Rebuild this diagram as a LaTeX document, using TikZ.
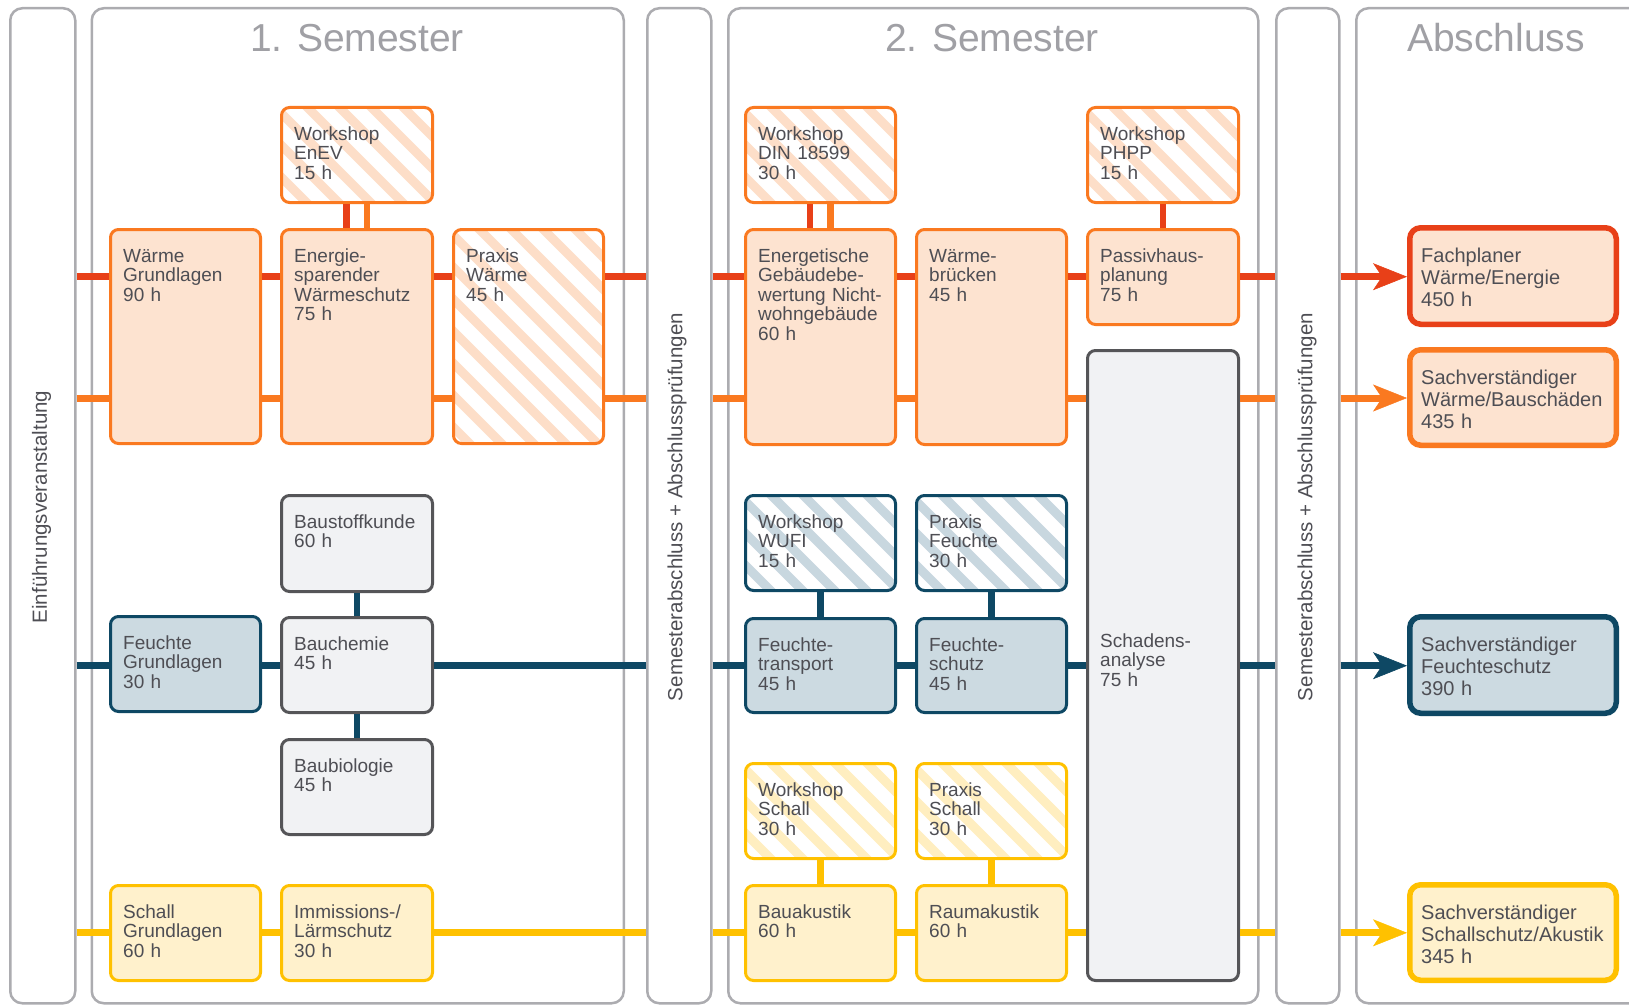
\documentclass[tikz,border=0pt]{standalone}
\usepackage{fontspec}
\setmainfont{Liberation Sans}
\usetikzlibrary{arrows.meta}
\definecolor{redc}{RGB}{232,64,24}
\definecolor{orc}{RGB}{250,121,32}
\definecolor{ofill}{RGB}{253,227,208}
\definecolor{ostripe}{RGB}{253,222,200}
\definecolor{bluc}{RGB}{14,72,100}
\definecolor{bfill}{RGB}{204,218,225}
\definecolor{bstripe}{RGB}{200,215,223}
\definecolor{yelc}{RGB}{255,193,0}
\definecolor{yfill}{RGB}{255,241,204}
\definecolor{ystripe}{RGB}{255,238,192}
\definecolor{gfill}{RGB}{241,242,244}
\definecolor{gbord}{RGB}{85,85,88}
\definecolor{colb}{RGB}{172,172,176}
\definecolor{txtc}{RGB}{78,78,84}
\definecolor{titc}{RGB}{160,160,165}

\newcommand\hatchlines[1]{\foreach \hh in {-9,...,6}{\draw[#1,line width=9pt] ([xshift=\hh*32pt-16pt,yshift=10pt]path picture bounding box.north west) -- ++(262pt,-262pt);}}

\newcommand\modbox[7]{%
\node[#2,anchor=north west,minimum width={#5-#3-3},minimum height={#6-#4-3}] (#1) at (#3,#4) {};
\node[txt,anchor=base west] (#1-t) at ([xshift=14pt,yshift=-34pt]#1.north west) {#7};}

\newcommand\goalbox[7]{%
\node[ab,#2,anchor=north west,minimum width={#5-#3-5.5},minimum height={#6-#4-5.5}] (#1) at (#3,#4) {};
\node[btxt,anchor=base west] (#1-t) at ([xshift=14pt,yshift=-37pt]#1.north west) {#7};}

\tikzset{
 col/.style={draw=colb,line width=2.5pt,rounded corners=12pt,fill=white,anchor=north west,inner sep=0pt},
 mb/.style={line width=3pt,rounded corners=8pt,inner sep=0pt},
 obox/.style={mb,draw=orc,fill=ofill},
 ohat/.style={mb,draw=orc,fill=white,path picture={\hatchlines{ostripe}}},
 bbox/.style={mb,draw=bluc,fill=bfill},
 bhat/.style={mb,draw=bluc,fill=white,path picture={\hatchlines{bstripe}}},
 ybox/.style={mb,draw=yelc,fill=yfill},
 yhat/.style={mb,draw=yelc,fill=white,path picture={\hatchlines{ystripe}}},
 gbox/.style={mb,draw=gbord,fill=gfill},
 ab/.style={line width=5.5pt,rounded corners=11pt,inner sep=0pt},
 txt/.style={text=txtc,font=\fontsize{19}{19.5}\selectfont,align=left,text width=230pt,inner sep=0pt},
 btxt/.style={text=txtc,font=\fontsize{20}{22}\selectfont,align=left,text width=230pt,inner sep=0pt},
 trk/.style={line width=7pt},
 vc/.style={line width=6.5pt},
 arr/.style={line width=7pt,-{Stealth[length=34pt,width=27pt,inset=9pt,line width=0.5pt]}},
 ttl/.style={text=titc,font=\fontsize{39}{44}\selectfont,anchor=base,inner sep=0pt},
 vlab/.style={text=txtc,font=\fontsize{20.5}{24}\selectfont,rotate=90,inner sep=0pt},
}

\begin{document}
\begin{tikzpicture}[x=1pt,y=-1pt]
\useasboundingbox (0,0) rectangle (1629,1006);

% columns
\node[col,minimum width=65pt,minimum height=995pt] (einf) at (9,7) {};
\node[col,minimum width=532pt,minimum height=995pt] (sem1) at (90.5,7) {};
\node[col,minimum width=64pt,minimum height=995pt] (sab1) at (646,7) {};
\node[col,minimum width=530pt,minimum height=995pt] (sem2) at (727,7) {};
\node[col,minimum width=63pt,minimum height=995pt] (sab2) at (1275,7) {};
\node[col,minimum width=320pt,minimum height=995pt] (absch) at (1355,7) {};

\node[ttl] (t1) at (357,52) {1. Semester};
\node[ttl] (t2) at (992,52) {2. Semester};
\node[ttl] (t3) at (1496,52) {Abschluss};

\node[vlab] (l1) at (41.5,507) {Einführungsveranstaltung};
\node[vlab] (l2) at (677,507) {Semesterabschluss + Abschlussprüfungen};
\node[vlab] (l3) at (1307,507) {Semesterabschluss + Abschlussprüfungen};

% Semester 1
\modbox{enev}{ohat}{280}{106}{434}{204}{Workshop\\EnEV\\15 h}
\modbox{wgl}{obox}{109}{228}{262}{445}{Wärme\\Grundlagen\\90 h}
\modbox{esw}{obox}{280}{228}{434}{445}{Energie-\\sparender\\Wärmeschutz\\75 h}
\modbox{pw}{ohat}{452}{228}{605}{445}{Praxis\\Wärme\\45 h}
\modbox{bsk}{gbox}{280}{494}{434}{593}{Baustoffkunde\\60 h}
\modbox{fgl}{bbox}{109}{615}{262}{713}{Feuchte\\Grundlagen\\30 h}
\modbox{bch}{gbox}{280}{616}{434}{714}{Bauchemie\\45 h}
\modbox{bbio}{gbox}{280}{738}{434}{836}{Baubiologie\\45 h}
\modbox{sgl}{ybox}{109}{884}{262}{982}{Schall\\Grundlagen\\60 h}
\modbox{ims}{ybox}{280}{884}{434}{982}{Immissions-/\\Lärmschutz\\30 h}

% Semester 2
\modbox{din}{ohat}{744}{106}{897}{204}{Workshop\\DIN 18599\\30 h}
\modbox{phpp}{ohat}{1086}{106}{1240}{204}{Workshop\\PHPP\\15 h}
\modbox{egb}{obox}{744}{228}{897}{446}{Energetische\\Gebäudebe-\\wertung Nicht-\\wohngebäude\\60 h}
\modbox{wbr}{obox}{915}{228}{1068}{446}{Wärme-\\brücken\\45 h}
\modbox{php}{obox}{1086}{228}{1240}{326}{Passivhaus-\\planung\\75 h}
\node[gbox,anchor=north west,minimum width=151pt,minimum height=630pt] (sch) at (1086,349) {};
\node[txt,anchor=base west] (sch-t) at (1100,647) {Schadens-\\analyse\\75 h};
\modbox{wufi}{bhat}{744}{494}{897}{592}{Workshop\\WUFI\\15 h}
\modbox{pf}{bhat}{915}{494}{1068}{592}{Praxis\\Feuchte\\30 h}
\modbox{ftr}{bbox}{744}{617}{897}{714}{Feuchte-\\transport\\45 h}
\modbox{fsch}{bbox}{915}{617}{1068}{714}{Feuchte-\\schutz\\45 h}
\modbox{wss}{yhat}{744}{762}{897}{860}{Workshop\\Schall\\30 h}
\modbox{ps}{yhat}{915}{762}{1068}{860}{Praxis\\Schall\\30 h}
\modbox{bak}{ybox}{744}{884}{897}{982}{Bauakustik\\60 h}
\modbox{rak}{ybox}{915}{884}{1068}{982}{Raumakustik\\60 h}

% Abschluss
\goalbox{fp}{draw=redc,fill=ofill}{1407}{225}{1619}{327}{Fachplaner\\Wärme/Energie\\450 h}
\goalbox{svw}{draw=orc,fill=ofill}{1407}{347}{1619}{448}{Sachverständiger\\Wärme/Bauschäden\\435 h}
\goalbox{svf}{draw=bluc,fill=bfill}{1407}{614}{1619}{716}{Sachverständiger\\Feuchteschutz\\390 h}
\goalbox{svs}{draw=yelc,fill=yfill}{1407}{882}{1619}{983}{Sachverständiger\\Schallschutz/Akustik\\345 h}

% track heights
\coordinate (R) at (0,276.7);
\coordinate (O) at (0,398);
\coordinate (B) at (0,665.7);
\coordinate (Y) at (0,932.8);

% red track
\draw[trk,redc] (einf.east|-R) -- (wgl.west|-R);
\draw[trk,redc] (wgl.east|-R) -- (esw.west|-R);
\draw[trk,redc] (esw.east|-R) -- (pw.west|-R);
\draw[trk,redc] (pw.east|-R) -- (sab1.west|-R);
\draw[trk,redc] (sab1.east|-R) -- (egb.west|-R);
\draw[trk,redc] (egb.east|-R) -- (wbr.west|-R);
\draw[trk,redc] (wbr.east|-R) -- (php.west|-R);
\draw[trk,redc] (php.east|-R) -- (sab2.west|-R);
\draw[arr,redc] (sab2.east|-R) -- (fp.west|-R);
% orange track
\draw[trk,orc] (einf.east|-O) -- (wgl.west|-O);
\draw[trk,orc] (wgl.east|-O) -- (esw.west|-O);
\draw[trk,orc] (esw.east|-O) -- (pw.west|-O);
\draw[trk,orc] (pw.east|-O) -- (sab1.west|-O);
\draw[trk,orc] (sab1.east|-O) -- (egb.west|-O);
\draw[trk,orc] (egb.east|-O) -- (wbr.west|-O);
\draw[trk,orc] (wbr.east|-O) -- (sch.west|-O);
\draw[trk,orc] (sch.east|-O) -- (sab2.west|-O);
\draw[arr,orc] (sab2.east|-O) -- (svw.west|-O);
% blue track
\draw[trk,bluc] (einf.east|-B) -- (fgl.west|-B);
\draw[trk,bluc] (fgl.east|-B) -- (bch.west|-B);
\draw[trk,bluc] (bch.east|-B) -- (sab1.west|-B);
\draw[trk,bluc] (sab1.east|-B) -- (ftr.west|-B);
\draw[trk,bluc] (ftr.east|-B) -- (fsch.west|-B);
\draw[trk,bluc] (fsch.east|-B) -- (sch.west|-B);
\draw[trk,bluc] (sch.east|-B) -- (sab2.west|-B);
\draw[arr,bluc] (sab2.east|-B) -- (svf.west|-B);
% yellow track
\draw[trk,yelc] (einf.east|-Y) -- (sgl.west|-Y);
\draw[trk,yelc] (sgl.east|-Y) -- (ims.west|-Y);
\draw[trk,yelc] (ims.east|-Y) -- (sab1.west|-Y);
\draw[trk,yelc] (sab1.east|-Y) -- (bak.west|-Y);
\draw[trk,yelc] (bak.east|-Y) -- (rak.west|-Y);
\draw[trk,yelc] (rak.east|-Y) -- (sch.west|-Y);
\draw[trk,yelc] (sch.east|-Y) -- (sab2.west|-Y);
\draw[arr,yelc] (sab2.east|-Y) -- (svs.west|-Y);

% vertical connectors
\coordinate (xa) at (346.5,0);
\coordinate (xb) at (367,0);
\coordinate (xc) at (810,0);
\coordinate (xd) at (830.5,0);
\coordinate (xe) at (1163,0);
\draw[vc,redc] (enev.south-|xa) -- (esw.north-|xa);
\draw[vc,orc] (enev.south-|xb) -- (esw.north-|xb);
\draw[vc,redc] (din.south-|xc) -- (egb.north-|xc);
\draw[vc,orc] (din.south-|xd) -- (egb.north-|xd);
\draw[vc,redc] (phpp.south-|xe) -- (php.north-|xe);
\draw[vc,bluc] (bsk.south) -- (bch.north);
\draw[vc,bluc] (bch.south) -- (bbio.north);
\draw[vc,bluc] (wufi.south) -- (ftr.north);
\draw[vc,bluc] (pf.south) -- (fsch.north);
\draw[vc,yelc] (wss.south) -- (bak.north);
\draw[vc,yelc] (ps.south) -- (rak.north);
\end{tikzpicture}
\end{document}
